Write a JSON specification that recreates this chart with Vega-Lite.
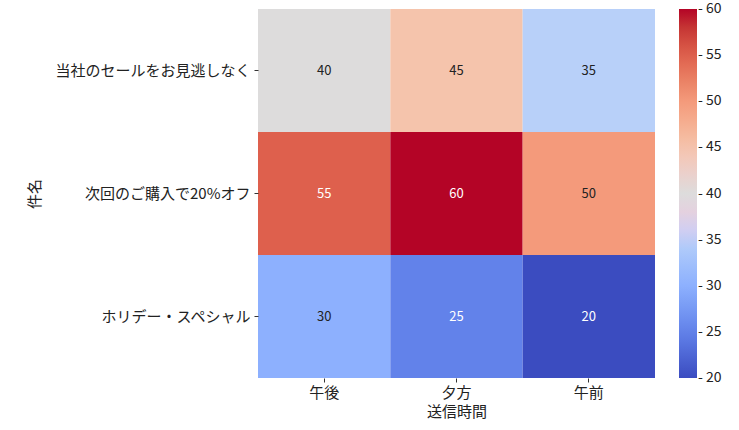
{
  "$schema": "https://vega.github.io/schema/vega-lite/v6.json",
  "autosize": {"type": "none"},
  "padding": {"left": 258, "top": 9, "right": 84, "bottom": 52},
  "width": 397,
  "height": 369,
  "background": "white",
  "data": {
    "values": [
      {"subject": "当社のセールをお見逃しなく", "time": "午後", "count": 40},
      {"subject": "当社のセールをお見逃しなく", "time": "夕方", "count": 45},
      {"subject": "当社のセールをお見逃しなく", "time": "午前", "count": 35},
      {"subject": "次回のご購入で20%オフ", "time": "午後", "count": 55},
      {"subject": "次回のご購入で20%オフ", "time": "夕方", "count": 60},
      {"subject": "次回のご購入で20%オフ", "time": "午前", "count": 50},
      {"subject": "ホリデー・スペシャル", "time": "午後", "count": 30},
      {"subject": "ホリデー・スペシャル", "time": "夕方", "count": 25},
      {"subject": "ホリデー・スペシャル", "time": "午前", "count": 20}
    ]
  },
  "encoding": {
    "x": {
      "field": "time",
      "type": "nominal",
      "sort": ["午後", "夕方", "午前"],
      "scale": {"paddingInner": 0, "paddingOuter": 0},
      "title": "送信時間",
      "axis": {
        "labelAngle": 0,
        "labelFontSize": 15,
        "labelPadding": 3,
        "titleFontSize": 15,
        "titleFontWeight": "normal",
        "titlePadding": 4,
        "domain": false,
        "tickSize": 4,
        "tickColor": "#333",
        "labelColor": "#222",
        "titleColor": "#222"
      }
    },
    "y": {
      "field": "subject",
      "type": "nominal",
      "sort": ["当社のセールをお見逃しなく", "次回のご購入で20%オフ", "ホリデー・スペシャル"],
      "scale": {"paddingInner": 0, "paddingOuter": 0},
      "title": "件名",
      "axis": {
        "labelFontSize": 15,
        "labelLimit": 300,
        "labelPadding": 4,
        "titleFontSize": 15,
        "titleFontWeight": "normal",
        "titlePadding": 16,
        "domain": false,
        "tickSize": 4,
        "tickColor": "#333",
        "labelColor": "#222",
        "titleColor": "#222"
      }
    }
  },
  "layer": [
    {
      "mark": {"type": "rect"},
      "encoding": {
        "color": {
          "field": "count",
          "type": "quantitative",
          "scale": {
            "type": "linear",
            "domain": [20, 25, 30, 35, 40, 45, 50, 55, 60],
            "range": ["#3b4cc0", "#6282ea", "#8db0fe", "#b8d0f9", "#dddcdc", "#f5c4ac", "#f49a7b", "#de604d", "#b40426"]
          },
          "legend": {
            "title": null,
            "orient": "none",
            "legendX": 421,
            "legendY": 0,
            "direction": "vertical",
            "gradientLength": 369,
            "gradientThickness": 18,
            "gradientStrokeWidth": 0,
            "values": [20, 25, 30, 35, 40, 45, 50, 55, 60],
            "labelExpr": "'-  ' + datum.label",
            "labelFontSize": 14,
            "labelColor": "#222",
            "labelOffset": 1,
            "labelOverlap": false,
            "encode": {
              "labels": {"update": {"baseline": {"value": "middle"}}}
            }
          }
        }
      }
    },
    {
      "mark": {"type": "text", "fontSize": 13},
      "encoding": {
        "text": {"field": "count", "type": "quantitative"},
        "color": {
          "condition": {"test": "datum.count >= 55 || datum.count <= 25", "value": "white"},
          "value": "#222"
        }
      }
    }
  ],
  "config": {
    "font": "Noto Sans CJK JP",
    "view": {"stroke": null}
  }
}
